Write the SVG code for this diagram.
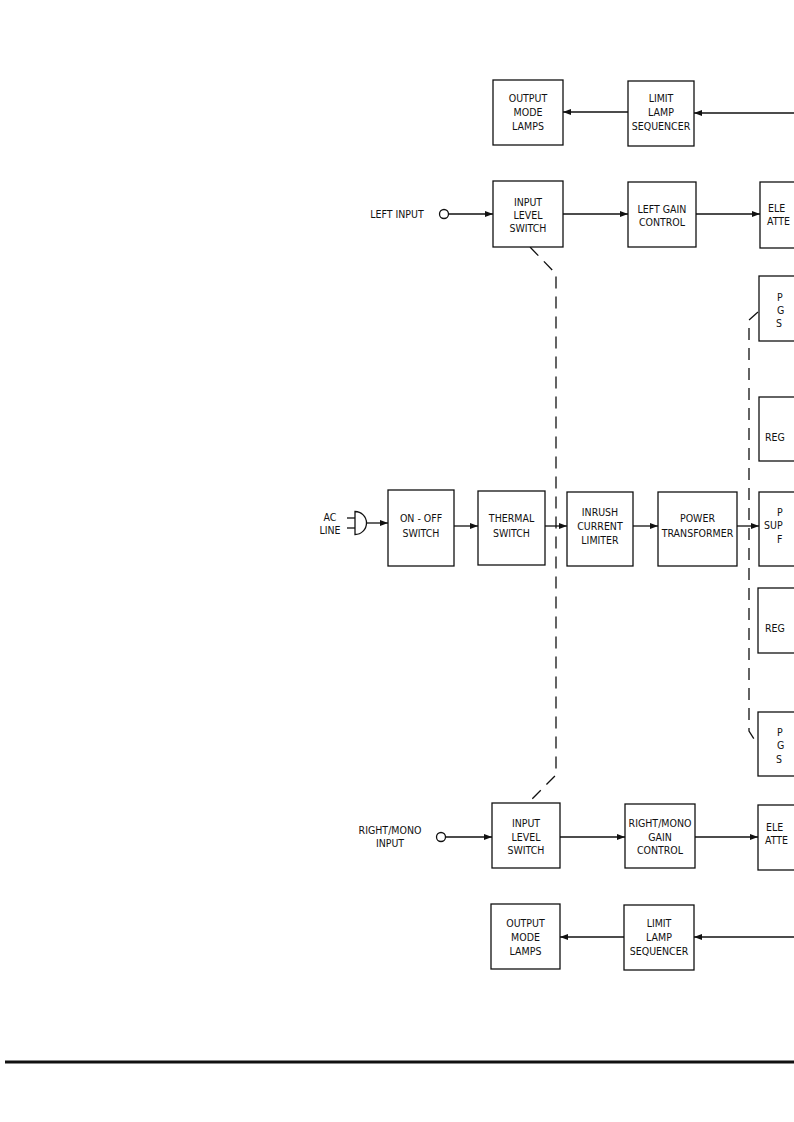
<svg xmlns="http://www.w3.org/2000/svg" width="794" height="1122" viewBox="0 0 794 1122">
<style>
.b{fill:#fff;stroke:#111;stroke-width:1.3}
.t{font-family:"DejaVu Sans Condensed","DejaVu Sans",sans-serif;font-stretch:condensed;font-size:10.5px;text-anchor:middle;fill:#111}
.s{text-anchor:start}
.c{stroke:#111;stroke-width:1.3;fill:none}
.a{marker-end:url(#ah)}
.d{stroke:#111;stroke-width:1.3;fill:none;stroke-dasharray:12 8}
</style>
<defs>
<marker id="ah" markerUnits="userSpaceOnUse" markerWidth="8" markerHeight="6" refX="8" refY="3" orient="auto">
<path d="M0,0 L8,3 L0,6 Z" fill="#111"/>
</marker>
</defs>
<rect width="794" height="1122" fill="#fff"/>
<g id="connectors">
<line class="c a" x1="628" y1="112" x2="563" y2="112"/>
<line class="c a" x1="794" y1="113" x2="694" y2="113"/>
<line class="c a" x1="448.5" y1="214" x2="493" y2="214"/>
<line class="c a" x1="563" y1="214" x2="628" y2="214"/>
<line class="c a" x1="696" y1="214" x2="760" y2="214"/>
<line class="c a" x1="366.5" y1="523" x2="388" y2="523"/>
<line class="c a" x1="454" y1="526" x2="478" y2="526"/>
<line class="c a" x1="545" y1="526" x2="567" y2="526"/>
<line class="c a" x1="633" y1="526" x2="658" y2="526"/>
<line class="c a" x1="737" y1="526" x2="759" y2="526"/>
<line class="c a" x1="445.5" y1="837" x2="492" y2="837"/>
<line class="c a" x1="560" y1="837" x2="625" y2="837"/>
<line class="c a" x1="695" y1="837" x2="758" y2="837"/>
<line class="c a" x1="624" y1="937" x2="560" y2="937"/>
<line class="c a" x1="794" y1="937" x2="694" y2="937"/>
<polyline class="d" points="530,247 556,274 556,775 528,803"/>
<polyline class="d" points="758,312 749,320 749,731 756,742"/>
</g>
<g id="out-lamps-top"><rect class="b" x="493" y="80" width="70" height="65"/>
<text class="t" x="528" y="102">OUTPUT</text><text class="t" x="528" y="116">MODE</text><text class="t" x="528" y="130">LAMPS</text></g>
<g id="limit-seq-top"><rect class="b" x="628" y="81" width="66" height="65"/>
<text class="t" x="661" y="102">LIMIT</text><text class="t" x="661" y="116">LAMP</text><text class="t" x="661" y="130">SEQUENCER</text></g>
<g id="left-input"><text class="t" x="397" y="218">LEFT INPUT</text><circle class="b" cx="444" cy="214" r="4.5"/></g>
<g id="input-switch-left"><rect class="b" x="493" y="181" width="70" height="66"/>
<text class="t" x="528" y="206">INPUT</text><text class="t" x="528" y="219">LEVEL</text><text class="t" x="528" y="232">SWITCH</text></g>
<g id="left-gain"><rect class="b" x="628" y="182" width="68" height="65"/>
<text class="t" x="662" y="213">LEFT GAIN</text><text class="t" x="662" y="226">CONTROL</text></g>
<g id="atten-left"><rect class="b" x="760" y="182" width="60" height="66"/>
<text class="t s" x="768" y="212">ELE</text><text class="t s" x="767" y="225">ATTE</text></g>
<g id="pgs-top"><rect class="b" x="759" y="276" width="60" height="65"/>
<text class="t s" x="777" y="301">P</text><text class="t s" x="777" y="314">G</text><text class="t s" x="776" y="327">S</text></g>
<g id="reg-top"><rect class="b" x="759" y="397" width="60" height="64"/>
<text class="t s" x="765" y="441">REG</text></g>
<g id="psf"><rect class="b" x="759" y="492" width="60" height="74"/>
<text class="t s" x="777" y="516">P</text><text class="t s" x="764" y="529">SUP</text><text class="t s" x="777" y="543">F</text></g>
<g id="reg-bottom"><rect class="b" x="758" y="588" width="60" height="65"/>
<text class="t s" x="765" y="632">REG</text></g>
<g id="pgs-bottom"><rect class="b" x="758" y="712" width="60" height="64"/>
<text class="t s" x="777" y="736">P</text><text class="t s" x="777" y="749">G</text><text class="t s" x="776" y="763">S</text></g>
<g id="ac-line"><text class="t" x="330" y="521">AC</text><text class="t" x="330" y="534">LINE</text>
<line class="c" x1="347" y1="518" x2="355" y2="518"/><line class="c" x1="347" y1="528" x2="355" y2="528"/>
<path class="c" d="M355,511.5 A11.5,11.5 0 0 1 355,534.5 Z"/></g>
<g id="on-off"><rect class="b" x="388" y="490" width="66" height="76"/>
<text class="t" x="421" y="522">ON - OFF</text><text class="t" x="421" y="537">SWITCH</text></g>
<g id="thermal"><rect class="b" x="478" y="491" width="67" height="74"/>
<text class="t" x="511.5" y="522">THERMAL</text><text class="t" x="511.5" y="537">SWITCH</text></g>
<g id="inrush"><rect class="b" x="567" y="492" width="66" height="74"/>
<text class="t" x="600" y="516">INRUSH</text><text class="t" x="600" y="530">CURRENT</text><text class="t" x="600" y="544">LIMITER</text></g>
<g id="transformer"><rect class="b" x="658" y="492" width="79" height="74"/>
<text class="t" x="697.5" y="522">POWER</text><text class="t" x="697.5" y="537">TRANSFORMER</text></g>
<g id="right-input"><text class="t" x="390" y="834">RIGHT/MONO</text><text class="t" x="390" y="847">INPUT</text><circle class="b" cx="441" cy="837" r="4.5"/></g>
<g id="input-switch-right"><rect class="b" x="492" y="803" width="68" height="65"/>
<text class="t" x="526" y="827">INPUT</text><text class="t" x="526" y="841">LEVEL</text><text class="t" x="526" y="854">SWITCH</text></g>
<g id="right-gain"><rect class="b" x="625" y="804" width="70" height="64"/>
<text class="t" x="660" y="827">RIGHT/MONO</text><text class="t" x="660" y="841">GAIN</text><text class="t" x="660" y="854">CONTROL</text></g>
<g id="atten-right"><rect class="b" x="758" y="805" width="60" height="65"/>
<text class="t s" x="766" y="831">ELE</text><text class="t s" x="765" y="844">ATTE</text></g>
<g id="out-lamps-bottom"><rect class="b" x="491" y="904" width="69" height="65"/>
<text class="t" x="525.5" y="927">OUTPUT</text><text class="t" x="525.5" y="941">MODE</text><text class="t" x="525.5" y="955">LAMPS</text></g>
<g id="limit-seq-bottom"><rect class="b" x="624" y="905" width="70" height="65"/>
<text class="t" x="659" y="927">LIMIT</text><text class="t" x="659" y="941">LAMP</text><text class="t" x="659" y="955">SEQUENCER</text></g>
<line x1="5" y1="1062" x2="794" y2="1062" stroke="#111" stroke-width="3"/>
</svg>
